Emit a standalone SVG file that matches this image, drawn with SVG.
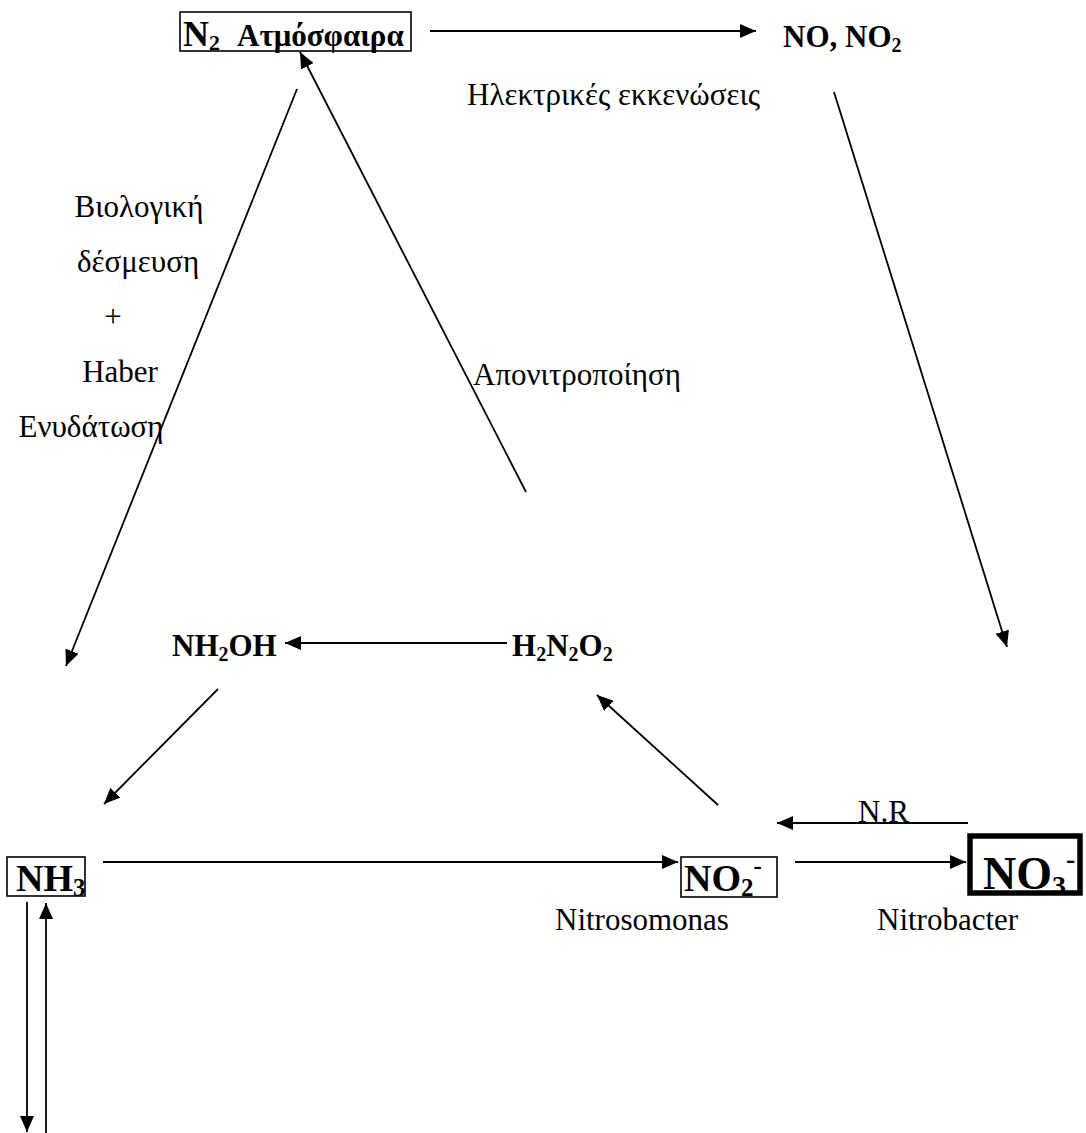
<svg xmlns="http://www.w3.org/2000/svg" width="1086" height="1133" viewBox="0 0 1086 1133">
<style>
text{font-family:"Liberation Serif","Times New Roman",serif;fill:#000}
.r{font-size:31px}
.b{font-size:31px;font-weight:bold}
.s{font-size:20px}
.box{fill:none;stroke:#000;stroke-width:1.6}
.c line{stroke:#000;stroke-width:1.8;marker-end:url(#ah)}
</style>
<defs>
<marker id="ah" viewBox="0 0 16 14" markerWidth="16" markerHeight="14" refX="16" refY="7" orient="auto" markerUnits="userSpaceOnUse">
<path d="M0,0 L16,7 L0,14 z" fill="#000"/>
</marker>
</defs>
<rect width="1086" height="1133" fill="#fff"/>
<g class="c" id="connectors">
<line x1="430" y1="31" x2="756" y2="31"/>
<line x1="297" y1="89" x2="66" y2="666"/>
<line x1="526" y1="492" x2="300" y2="52"/>
<line x1="834" y1="92" x2="1007" y2="647"/>
<line x1="507" y1="643" x2="285" y2="643"/>
<line x1="218" y1="689" x2="104" y2="804"/>
<line x1="718" y1="805" x2="597" y2="695"/>
<line x1="968" y1="823" x2="777" y2="823"/>
<line x1="103" y1="862" x2="678" y2="862"/>
<line x1="795" y1="862" x2="966" y2="862"/>
<line x1="27" y1="902" x2="27" y2="1132"/>
<line x1="46" y1="1133" x2="46" y2="903"/>
</g>
<g id="n2">
<rect class="box" x="180" y="12" width="231" height="39"/>
<text x="183" y="46" font-weight="bold"><tspan font-size="36">N</tspan><tspan font-size="22" dy="4">2</tspan><tspan font-size="31" dy="-4" x="237">Ατμόσφαιρα</tspan></text>
</g>
<g id="no-no2">
<text class="b" x="783" y="47">NO, NO<tspan class="s" dy="5">2</tspan></text>
</g>
<text class="r" x="467" y="105">Ηλεκτρικές εκκενώσεις</text>
<g id="label-bio" class="r" text-anchor="middle">
<text x="139" y="217">Βιολογική</text>
<text x="138" y="272">δέσμευση</text>
<text x="113" y="327">+</text>
<text x="120" y="382">Haber</text>
<text x="91" y="437">Ενυδάτωση</text>
</g>
<text class="r" x="473" y="385">Απονιτροποίηση</text>
<g id="nh2oh">
<text class="b" x="172" y="656">NH<tspan class="s" dy="5">2</tspan><tspan dy="-5">OH</tspan></text>
</g>
<g id="h2n2o2">
<text class="b" x="512" y="656">H<tspan class="s" dy="5">2</tspan><tspan dy="-5">N</tspan><tspan class="s" dy="5">2</tspan><tspan dy="-5">O</tspan><tspan class="s" dy="5">2</tspan></text>
</g>
<g id="nh3">
<rect class="box" x="7" y="857" width="78" height="39"/>
<text x="16" y="891" font-weight="bold"><tspan font-size="38">NH</tspan><tspan font-size="25" dy="5">3</tspan></text>
</g>
<g id="no2m">
<rect class="box" x="681" y="857" width="96" height="40"/>
<text x="684" y="891" font-weight="bold"><tspan font-size="38">NO</tspan><tspan font-size="25" dy="5">2</tspan><tspan font-size="25" dy="-22">-</tspan></text>
</g>
<g id="no3m">
<rect x="970" y="836" width="110" height="57" fill="none" stroke="#000" stroke-width="5.5"/>
<text x="983" y="889" font-weight="bold"><tspan font-size="46">NO</tspan><tspan font-size="28" dy="6">3</tspan><tspan font-size="28" dy="-27">-</tspan></text>
</g>
<text class="r" x="858" y="822">N.R</text>
<text class="r" x="555" y="930">Nitrosomonas</text>
<text class="r" x="877" y="930">Nitrobacter</text>
</svg>
